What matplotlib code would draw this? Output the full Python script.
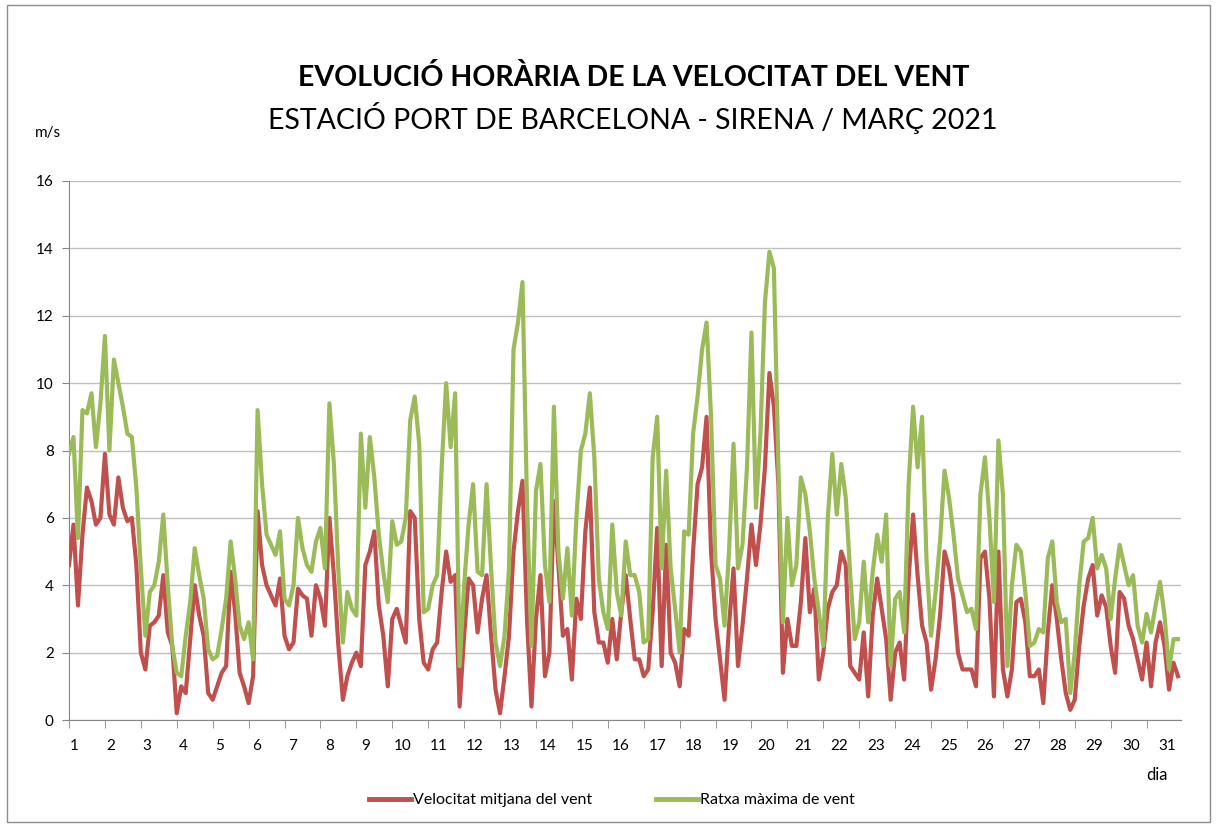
import numpy as np
import matplotlib.pyplot as plt
from matplotlib.lines import Line2D
from matplotlib.patches import Rectangle

plt.rcParams['font.family'] = ['Lato', 'DejaVu Sans']

# values read every 3 hours (0h, 3h, ... 21h) for each day of March 2021, m/s
dies = list(range(1, 32))

ratxa_per_dia = [
    [7.9, 8.4, 5.4, 9.2, 9.1, 9.7, 8.1, 9.4],
    [11.4, 8.0, 10.7, 10.0, 9.3, 8.5, 8.4, 6.9],
    [4.5, 2.5, 3.8, 4.0, 4.7, 6.1, 4.0, 2.2],
    [1.4, 1.3, 2.5, 3.5, 5.1, 4.3, 3.6, 2.1],
    [1.8, 1.9, 2.7, 3.6, 5.3, 4.2, 2.8, 2.4],
    [2.9, 1.8, 9.2, 7.0, 5.5, 5.2, 4.9, 5.6],
    [3.6, 3.4, 4.0, 6.0, 5.1, 4.6, 4.4, 5.3],
    [5.7, 4.5, 9.4, 7.6, 4.4, 2.3, 3.8, 3.3],
    [3.1, 8.5, 6.3, 8.4, 7.2, 5.5, 4.4, 3.5],
    [5.9, 5.2, 5.3, 6.0, 8.9, 9.6, 8.2, 3.2],
    [3.3, 4.0, 4.3, 7.5, 10.0, 8.1, 9.7, 1.6],
    [4.0, 5.8, 7.0, 4.4, 4.3, 7.0, 4.5, 2.3],
    [1.6, 2.5, 4.5, 11.0, 11.8, 13.0, 6.5, 2.2],
    [6.8, 7.6, 4.6, 3.5, 9.3, 5.0, 3.6, 5.1],
    [3.1, 6.0, 8.0, 8.5, 9.7, 7.8, 4.2, 3.2],
    [2.7, 5.8, 3.8, 3.1, 5.3, 4.3, 4.3, 3.8],
    [2.3, 2.4, 7.8, 9.0, 4.5, 7.4, 4.5, 3.3],
    [2.0, 5.6, 5.5, 8.5, 9.6, 11.0, 11.8, 9.0],
    [4.6, 4.2, 2.8, 5.0, 8.2, 4.5, 5.2, 7.5],
    [11.5, 6.3, 8.5, 12.4, 13.9, 13.4, 7.5, 2.9],
    [6.0, 4.0, 4.6, 7.2, 6.7, 5.6, 4.2, 3.2],
    [2.2, 6.0, 7.9, 6.1, 7.6, 6.6, 4.3, 2.4],
    [2.9, 4.7, 2.9, 4.4, 5.5, 4.7, 6.1, 1.6],
    [3.6, 3.8, 2.6, 7.0, 9.3, 7.5, 9.0, 4.7],
    [2.5, 3.8, 5.3, 7.4, 6.6, 5.5, 4.2, 3.7],
    [3.2, 3.3, 2.7, 6.7, 7.8, 6.0, 3.5, 8.3],
    [6.7, 1.6, 4.0, 5.2, 5.0, 3.8, 2.2, 2.3],
    [2.7, 2.6, 4.8, 5.3, 3.5, 2.9, 3.0, 0.8],
    [2.0, 4.0, 5.3, 5.4, 6.0, 4.5, 4.9, 4.5],
    [3.0, 4.2, 5.2, 4.6, 4.0, 4.3, 2.8, 2.3],
    [3.15, 2.6, 3.4, 4.1, 3.1, 1.5, 2.4, 2.4],
]

mitjana_per_dia = [
    [4.6, 5.8, 3.4, 5.5, 6.9, 6.5, 5.8, 6.0],
    [7.9, 6.1, 5.8, 7.2, 6.3, 5.9, 6.0, 4.6],
    [2.0, 1.5, 2.8, 2.9, 3.1, 4.3, 2.6, 2.2],
    [0.2, 1.0, 0.8, 2.4, 4.0, 3.1, 2.5, 0.8],
    [0.6, 1.0, 1.4, 1.6, 4.4, 3.2, 1.4, 1.0],
    [0.5, 1.3, 6.2, 4.6, 4.0, 3.7, 3.4, 4.2],
    [2.5, 2.1, 2.3, 3.9, 3.7, 3.6, 2.5, 4.0],
    [3.6, 2.8, 6.0, 4.3, 2.2, 0.6, 1.3, 1.7],
    [2.0, 1.6, 4.6, 5.0, 5.6, 3.4, 2.5, 1.0],
    [3.0, 3.3, 2.8, 2.3, 6.2, 6.0, 3.0, 1.7],
    [1.5, 2.1, 2.3, 3.8, 5.0, 4.1, 4.3, 0.4],
    [2.5, 4.2, 4.0, 2.6, 3.6, 4.3, 2.5, 0.9],
    [0.2, 1.3, 2.5, 5.0, 6.2, 7.1, 3.0, 0.4],
    [3.0, 4.3, 1.3, 2.0, 6.5, 4.6, 2.5, 2.7],
    [1.2, 3.6, 3.0, 5.6, 6.9, 3.2, 2.3, 2.3],
    [1.7, 3.0, 1.8, 3.2, 4.3, 3.0, 1.8, 1.8],
    [1.3, 1.5, 3.2, 5.7, 1.6, 5.2, 2.0, 1.7],
    [1.0, 2.7, 2.5, 5.0, 7.0, 7.5, 9.0, 5.0],
    [3.0, 1.8, 0.6, 2.8, 4.5, 1.6, 2.8, 4.2],
    [5.8, 4.6, 5.8, 7.5, 10.3, 9.3, 7.0, 1.4],
    [3.0, 2.2, 2.2, 3.5, 5.4, 3.2, 3.9, 1.2],
    [2.0, 3.3, 3.8, 4.0, 5.0, 4.6, 1.6, 1.4],
    [1.2, 2.6, 0.7, 3.1, 4.2, 3.3, 2.4, 0.6],
    [2.0, 2.3, 1.2, 4.2, 6.1, 4.3, 2.8, 2.3],
    [0.9, 1.8, 3.1, 5.0, 4.5, 3.6, 2.0, 1.5],
    [1.5, 1.5, 1.0, 4.8, 5.0, 3.6, 0.7, 5.0],
    [1.5, 0.7, 1.5, 3.5, 3.6, 2.9, 1.3, 1.3],
    [1.5, 0.5, 2.6, 4.0, 3.0, 1.8, 0.8, 0.3],
    [0.6, 2.2, 3.4, 4.2, 4.6, 3.1, 3.7, 3.35],
    [2.2, 1.4, 3.8, 3.6, 2.8, 2.4, 1.8, 1.2],
    [2.3, 1.0, 2.3, 2.9, 2.2, 0.9, 1.7, 1.3],
]

ratxa = np.concatenate(ratxa_per_dia)
mitjana = np.concatenate(mitjana_per_dia)
hores = np.arange(len(ratxa)) * 3

VERMELL = '#C0504D'
VERD = '#9BBB59'
GRIS = '#868686'

fig = plt.figure(figsize=(12.17, 8.27), dpi=100)
ax = fig.add_axes([69 / 1217, 107 / 827, 1112 / 1217, 539 / 827])

ax.plot(hores, mitjana, color=VERMELL, lw=3.0, zorder=3, solid_joinstyle='round')
ax.plot(hores, ratxa, color=VERD, lw=3.0, zorder=4, solid_joinstyle='round')

ax.set_xlim(0, 743)
ax.set_ylim(0, 16)
ax.set_yticks(range(0, 17, 2))
ax.grid(axis='y', color='#BFBFBF', lw=1)
ax.set_axisbelow(True)

# day boundaries as tick marks, labels a little to the right (as in the original)
ax.set_xticks([(d - 1) * 24 for d in dies], minor=True)
ax.set_xticks([(d - 1) * 24.35 + 3.5 for d in dies])
ax.set_xticklabels([str(d) for d in dies])
ax.tick_params(axis='x', which='major', length=0, pad=14, labelsize=11)
ax.tick_params(axis='x', which='minor', length=6, color=GRIS, direction='out')
ax.tick_params(axis='y', length=5, color=GRIS, labelsize=11, pad=6)

for s in ['top', 'right']:
    ax.spines[s].set_visible(False)
for s in ['left', 'bottom']:
    ax.spines[s].set_color(GRIS)

fig.text(634 / 1217, 1 - 77 / 827, 'EVOLUCIÓ HORÀRIA DE LA VELOCITAT DEL VENT',
         ha='center', va='center', fontsize=20.5, fontweight='bold')
fig.text(633 / 1217, 1 - 118 / 827, 'ESTACIÓ PORT DE BARCELONA - SIRENA / MARÇ 2021',
         ha='center', va='center', fontsize=20.5)
fig.text(48 / 1217, 1 - 133 / 827, 'm/s', ha='center', va='center', fontsize=11)
fig.text(1157 / 1217, 1 - 775 / 827, 'dia', ha='center', va='center', fontsize=12)

handles = [Line2D([], [], color=VERMELL, lw=3.5), Line2D([], [], color=VERD, lw=3.5)]
fig.legend(handles, ['Velocitat mitjana del vent', 'Ratxa màxima de vent'],
           loc='center', bbox_to_anchor=(612 / 1217, 1 - 800 / 827), ncol=2,
           frameon=False, fontsize=11.5, handlelength=2.6, handletextpad=0.15,
           columnspacing=4.0)

fig.patches.append(Rectangle((7 / 1217, 5 / 827), 1203 / 1217, 817 / 827,
                             transform=fig.transFigure, fill=False,
                             edgecolor='#8C8C8C', lw=1))

fig.savefig('out.png', dpi=100)
